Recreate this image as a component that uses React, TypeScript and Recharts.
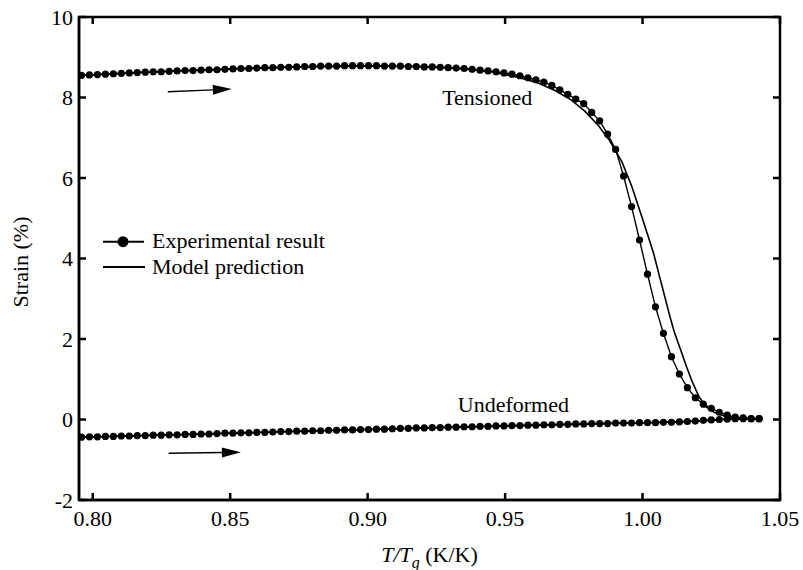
import { LineChart, Line, XAxis, YAxis, ReferenceLine, ReferenceDot, ReferenceArea, Legend, Label } from "recharts"

const FONT = "'Liberation Serif', 'DejaVu Serif', serif"

// T/Tg sample positions of the measured points
const xGrid = [
    0.7959, 0.7988, 0.8017, 0.8046, 0.8075, 0.8104, 0.8133, 0.8162, 0.8191, 0.822,
    0.8249, 0.8278, 0.8307, 0.8336, 0.8365, 0.8394, 0.8423, 0.8452, 0.8481, 0.851,
    0.8539, 0.8568, 0.8597, 0.8626, 0.8655, 0.8684, 0.8713, 0.8742, 0.8771, 0.88,
    0.8829, 0.8858, 0.8887, 0.8916, 0.8945, 0.8974, 0.9003, 0.9032, 0.9061, 0.909,
    0.9119, 0.9148, 0.9177, 0.9206, 0.9235, 0.9264, 0.9293, 0.9322, 0.9351, 0.938,
    0.9409, 0.9438, 0.9467, 0.9496, 0.9525, 0.9554, 0.9583, 0.9612, 0.9641, 0.967,
    0.9699, 0.9728, 0.9757, 0.9786, 0.9815, 0.9844, 0.9873, 0.9902, 0.9931, 0.996,
    0.9989, 1.0018, 1.0047, 1.0076, 1.0105, 1.0134, 1.0163, 1.0192, 1.0221, 1.025,
    1.0279, 1.0308, 1.0337, 1.0366, 1.0395, 1.0424,
]

const tensionedExp = [
    8.55, 8.56, 8.57, 8.58, 8.59, 8.6, 8.61, 8.62, 8.63, 8.64,
    8.64, 8.65, 8.66, 8.67, 8.67, 8.68, 8.69, 8.69, 8.7, 8.71,
    8.72, 8.72, 8.73, 8.74, 8.74, 8.75, 8.75, 8.76, 8.77, 8.77,
    8.78, 8.78, 8.78, 8.79, 8.79, 8.79, 8.79, 8.79, 8.78, 8.78,
    8.78, 8.77, 8.77, 8.76, 8.76, 8.75, 8.74, 8.73, 8.72, 8.7,
    8.68, 8.66, 8.64, 8.61, 8.58, 8.54, 8.49, 8.44, 8.38, 8.3,
    8.19, 8.08, 7.96, 7.85, 7.63, 7.42, 7.09, 6.71, 6.05, 5.29,
    4.46, 3.61, 2.8, 2.14, 1.56, 1.13, 0.79, 0.54, 0.38, 0.28,
    0.18, 0.11, 0.06, 0.04, 0.02, 0.02,
]

const undeformedExp = [
    -0.44, -0.43, -0.43, -0.42, -0.42, -0.41, -0.41, -0.4, -0.4, -0.39,
    -0.39, -0.38, -0.38, -0.37, -0.37, -0.36, -0.36, -0.35, -0.34, -0.34,
    -0.33, -0.33, -0.32, -0.32, -0.31, -0.3, -0.3, -0.29, -0.29, -0.28,
    -0.28, -0.27, -0.27, -0.26, -0.26, -0.25, -0.25, -0.24, -0.24, -0.23,
    -0.22, -0.22, -0.21, -0.21, -0.2, -0.2, -0.19, -0.19, -0.18, -0.18,
    -0.17, -0.17, -0.16, -0.16, -0.15, -0.15, -0.14, -0.14, -0.13, -0.13,
    -0.12, -0.12, -0.11, -0.11, -0.1, -0.1, -0.1, -0.09, -0.09, -0.09,
    -0.08, -0.08, -0.08, -0.07, -0.07, -0.06, -0.05, -0.04, -0.02, -0.01,
    0.0, 0.01, 0.02, 0.02, 0.02, 0.02,
]

// model prediction curves
const modelTX = [
    0.7959, 0.82, 0.85, 0.875, 0.9, 0.92, 0.935, 0.945, 0.955, 0.962, 0.968, 0.974, 0.979, 0.984,
    0.988, 0.9925, 0.9961, 1.0001, 1.004, 1.0084, 1.0103, 1.0117, 1.014, 1.016, 1.018, 1.0205,
    1.023, 1.026, 1.03, 1.035, 1.0424,
]
const modelTY = [
    8.55, 8.63, 8.71, 8.76, 8.78, 8.77, 8.71, 8.64, 8.5, 8.36, 8.18, 7.94, 7.66, 7.3,
    6.93, 6.4, 5.79, 4.96, 4.13, 2.97, 2.47, 2.14, 1.7, 1.31, 0.95, 0.57,
    0.32, 0.18, 0.08, 0.03, 0.02,
]
const modelUX = [0.7959, 0.85, 0.9, 0.95, 1.0, 1.02, 1.03, 1.0424]
const modelUY = [-0.44, -0.34, -0.25, -0.16, -0.08, -0.04, 0.0, 0.02]

const xTicks = [0.8, 0.85, 0.9, 0.95, 1.0, 1.05]
const yTicks = [-2, 0, 2, 4, 6, 8, 10]
const xDomain = [0.795, 1.05]
const yDomain = [-2, 10]

const tensionedData = xGrid.map((x, i) => ({ x, y: tensionedExp[i] }))
const undeformedData = xGrid.map((x, i) => ({ x, y: undeformedExp[i] }))
const modelTData = modelTX.map((x, i) => ({ x, y: modelTY[i] }))
const modelUData = modelUX.map((x, i) => ({ x, y: modelUY[i] }))

const TICK_LEN = 7

// inward tick marks on both ends of a full-height / full-width reference line
const TickMarks = (props: any) => {
    const { x1, y1, x2, y2 } = props
    if (x1 === x2) {
        const top = Math.min(y1, y2)
        const bot = Math.max(y1, y2)
        return (
            <g>
                <line x1={x1} y1={top} x2={x1} y2={top + TICK_LEN} stroke="#000" strokeWidth={2.5} />
                <line x1={x1} y1={bot} x2={x1} y2={bot - TICK_LEN} stroke="#000" strokeWidth={2.5} />
            </g>
        )
    }
    const left = Math.min(x1, x2)
    const right = Math.max(x1, x2)
    return (
        <g>
            <line x1={left} y1={y1} x2={left + TICK_LEN} y2={y1} stroke="#000" strokeWidth={2.5} />
            <line x1={right} y1={y1} x2={right - TICK_LEN} y2={y1} stroke="#000" strokeWidth={2.5} />
        </g>
    )
}

const Arrow = (props: any) => {
    const { x1, y1, x2, y2 } = props
    const ang = Math.atan2(y2 - y1, x2 - x1)
    const len = 19
    const half = 5
    const bx = x2 - len * Math.cos(ang)
    const by = y2 - len * Math.sin(ang)
    const px = -Math.sin(ang) * half
    const py = Math.cos(ang) * half
    return (
        <g>
            <line x1={x1} y1={y1} x2={bx} y2={by} stroke="#000" strokeWidth={1.4} />
            <polygon points={`${x2},${y2} ${bx + px},${by + py} ${bx - px},${by - py}`} fill="#000" />
        </g>
    )
}

const XTitle = (props: any) => {
    const vb = props.viewBox
    const cx = vb.x + vb.width / 2
    const y = vb.y + 62
    return (
        <text x={cx} y={y} textAnchor="middle" fontFamily={FONT} fontSize={22} fill="#000">
            <tspan fontStyle="italic">T/T</tspan>
            <tspan fontStyle="italic" fontSize={16} dy={6}>g</tspan>
            <tspan dy={-6}> (K/K)</tspan>
        </text>
    )
}

const YTitle = (props: any) => {
    const vb = props.viewBox
    const x = vb.x + 9
    const y = vb.y + vb.height / 2 + 3.5
    return (
        <text x={x} y={y} transform={`rotate(-90 ${x} ${y})`} textAnchor="middle" fontFamily={FONT} fontSize={22} fill="#000">
            Strain (%)
        </text>
    )
}

const LegendBox = () => (
    <svg width={250} height={58} style={{ display: "block" }}>
        <line x1={5} y1={15.7} x2={46} y2={15.7} stroke="#000" strokeWidth={2} />
        <circle cx={25} cy={15.7} r={5.5} fill="#000" />
        <text x={54} y={21.5} fontFamily={FONT} fontSize={22} fill="#000">Experimental result</text>
        <line x1={5} y1={41} x2={47} y2={41} stroke="#000" strokeWidth={2} />
        <text x={54} y={47.5} fontFamily={FONT} fontSize={22} fill="#000">Model prediction</text>
    </svg>
)

const tickStyle = { fill: "#000", fontSize: 22, fontFamily: FONT }

export default function App() {
    return (
        <div style={{ position: "absolute", left: 0, top: 0 }}>
            <LineChart width={803} height={570} margin={{ top: 17, right: 23, left: 19, bottom: 10 }}>
                <XAxis
                    xAxisId="b"
                    dataKey="x"
                    type="number"
                    domain={xDomain}
                    allowDataOverflow
                    ticks={xTicks}
                    tickFormatter={(v: number) => v.toFixed(2)}
                    height={60}
                    stroke="#000"
                    strokeWidth={2.5}
                    tickLine={false}
                    tickSize={0}
                    tickMargin={10}
                    tick={tickStyle}
                >
                    <Label content={XTitle} />
                </XAxis>
                <YAxis
                    yAxisId="l"
                    type="number"
                    domain={yDomain}
                    allowDataOverflow
                    ticks={yTicks}
                    width={60}
                    stroke="#000"
                    strokeWidth={2.5}
                    tickLine={false}
                    tickSize={0}
                    tickMargin={6}
                    tick={tickStyle}
                >
                    <Label content={YTitle} />
                </YAxis>
                <ReferenceArea
                    xAxisId="b"
                    yAxisId="l"
                    x1={xDomain[0]}
                    x2={xDomain[1]}
                    y1={yDomain[0]}
                    y2={yDomain[1]}
                    fill="none"
                    stroke="#000"
                    strokeWidth={2.5}
                    fillOpacity={0}
                />
                {xTicks.map((t) => (
                    <ReferenceLine key={`xt${t}`} xAxisId="b" yAxisId="l" x={t} shape={TickMarks} />
                ))}
                {yTicks.map((t) => (
                    <ReferenceLine key={`yt${t}`} xAxisId="b" yAxisId="l" y={t} shape={TickMarks} />
                ))}
                <Legend
                    layout="vertical"
                    align="center"
                    verticalAlign="middle"
                    wrapperStyle={{ left: 98, top: 226, width: 250 }}
                    content={LegendBox}
                />
                <Line
                    xAxisId="b"
                    yAxisId="l"
                    data={modelTData}
                    dataKey="y"
                    name="Model prediction"
                    stroke="#000"
                    strokeWidth={1.6}
                    dot={false}
                    isAnimationActive={false}
                />
                <Line
                    xAxisId="b"
                    yAxisId="l"
                    data={modelUData}
                    dataKey="y"
                    name="Model prediction (undeformed)"
                    stroke="#000"
                    strokeWidth={1.6}
                    dot={false}
                    isAnimationActive={false}
                    legendType="none"
                />
                <Line
                    xAxisId="b"
                    yAxisId="l"
                    data={tensionedData}
                    dataKey="y"
                    name="Experimental result"
                    stroke="#000"
                    strokeWidth={1.4}
                    dot={{ r: 3.6, fill: "#000", stroke: "none" }}
                    isAnimationActive={false}
                />
                <Line
                    xAxisId="b"
                    yAxisId="l"
                    data={undeformedData}
                    dataKey="y"
                    name="Experimental result (undeformed)"
                    stroke="#000"
                    strokeWidth={1.4}
                    dot={{ r: 3.6, fill: "#000", stroke: "none" }}
                    isAnimationActive={false}
                    legendType="none"
                />
                <ReferenceLine
                    xAxisId="b"
                    yAxisId="l"
                    segment={[{ x: 0.8273, y: 8.144 }, { x: 0.8506, y: 8.21 }]}
                    shape={Arrow}
                />
                <ReferenceLine
                    xAxisId="b"
                    yAxisId="l"
                    segment={[{ x: 0.8276, y: -0.84 }, { x: 0.8539, y: -0.815 }]}
                    shape={Arrow}
                />
                <ReferenceDot
                    xAxisId="b"
                    yAxisId="l"
                    x={0.9435}
                    y={8.0}
                    r={0}
                    fill="none"
                    stroke="none"
                    label={{ value: "Tensioned", position: "center", fontSize: 22, fill: "#000", fontFamily: FONT }}
                />
                <ReferenceDot
                    xAxisId="b"
                    yAxisId="l"
                    x={0.953}
                    y={0.38}
                    r={0}
                    fill="none"
                    stroke="none"
                    label={{ value: "Undeformed", position: "center", fontSize: 22, fill: "#000", fontFamily: FONT }}
                />
            </LineChart>
        </div>
    )
}
